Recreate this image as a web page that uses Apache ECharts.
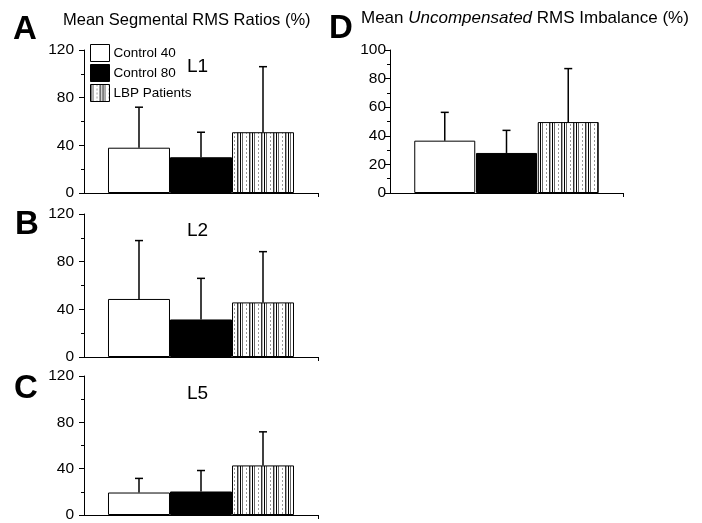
<!DOCTYPE html>
<html><head><meta charset="utf-8">
<script src="https://cdn.jsdelivr.net/npm/echarts@6/dist/echarts.min.js"></script>
<style>html,body{margin:0;padding:0;background:#fff}#c{width:702px;height:523px}</style>
</head><body><div id="c"></div>
<script>
// ---- data ----
const groups = ['Control 40', 'Control 80', 'LBP Patients'];
const panelA_mean = [38, 30, 51];
const panelA_sd   = [34, 21, 55];
const panelB_mean = [48.7, 31.5, 45.8];
const panelB_sd   = [49, 34.5, 42.6];
const panelC_mean = [19.4, 20.3, 42.8];
const panelC_sd   = [12.2, 18.1, 29];
const panelD_mean = [36.6, 28, 49.6];
const panelD_sd   = [19.8, 15.8, 37.4];

// stripe pattern for LBP patients
function makePattern() {
  const c = document.createElement('canvas');
  c.width = 12; c.height = 4;
  const g = c.getContext('2d');
  g.fillStyle = '#fff'; g.fillRect(0, 0, 12, 4);
  g.fillStyle = '#000'; g.fillRect(0, 0, 1, 4);
  g.fillStyle = '#666'; g.fillRect(2, 0, 1, 4);
  g.fillStyle = '#999'; g.fillRect(6, 0, 1, 2);
  g.fillStyle = '#333'; g.fillRect(9, 0, 1, 4);
  g.fillStyle = '#aaa'; g.fillRect(10, 0, 1, 4);
  return c;
}
const pattern = { image: makePattern(), repeat: 'repeat' };
const fills = ['#fff', '#000', pattern];

const panels = [
  { mean: panelA_mean, sd: panelA_sd, max: 120, interval: 40, grid: { left: 84, top: 50, width: 234, height: 143 }, bw: 62, margin: 10 },
  { mean: panelB_mean, sd: panelB_sd, max: 120, interval: 40, grid: { left: 84, top: 214, width: 234, height: 143 }, bw: 62, margin: 10 },
  { mean: panelC_mean, sd: panelC_sd, max: 120, interval: 40, grid: { left: 84, top: 376, width: 234, height: 142 }, bw: 62, margin: 10 },
  { mean: panelD_mean, sd: panelD_sd, max: 100, interval: 20, grid: { left: 390, top: 50, width: 233, height: 143 }, bw: 61, margin: 4 }
];

const XMIN = 0.113, XMAX = 3.887;
const font = 'Liberation Sans, Arial, sans-serif';
const grid = [], xAxis = [], yAxis = [], series = [];
panels.forEach((p, i) => {
  grid.push(p.grid);
  xAxis.push({
    type: 'value', gridIndex: i, min: XMIN, max: XMAX,
    axisLine: { show: true, lineStyle: { color: '#000', width: 1 } },
    axisTick: { show: true, customValues: [XMAX], length: 4, lineStyle: { color: '#000' } },
    axisLabel: { show: false }, splitLine: { show: false }
  });
  yAxis.push({
    type: 'value', gridIndex: i, min: 0, max: p.max, interval: p.interval,
    axisLine: { show: true, lineStyle: { color: '#000', width: 1 } },
    axisTick: { show: true, length: 5, lineStyle: { color: '#000' } },
    minorTick: { show: true, splitNumber: 2, length: 3, lineStyle: { color: '#000' } },
    splitLine: { show: false }, minorSplitLine: { show: false },
    axisLabel: { color: '#000', fontSize: 15.5, fontFamily: font, margin: p.margin }
  });
  groups.forEach((g, k) => {
    series.push({
      type: 'bar', name: g, xAxisIndex: i, yAxisIndex: i,
      barWidth: p.bw, barGap: '-100%',
      data: [[k + 1, p.mean[k]]],
      itemStyle: { color: fills[k], borderColor: '#000', borderWidth: 1 },
      z: 2, animation: false
    });
  });
  series.push({
    type: 'custom', xAxisIndex: i, yAxisIndex: i, z: 5, animation: false,
    data: p.mean.map((m, k) => [k + 1, m, m + p.sd[k]]),
    renderItem: function (params, api) {
      const x = api.value(0);
      const a = api.coord([x, api.value(1)]);
      const b = api.coord([x, api.value(2)]);
      return {
        type: 'group', children: [
          { type: 'line', shape: { x1: a[0], y1: a[1], x2: b[0], y2: b[1] }, style: { stroke: '#000', lineWidth: 1.5 } },
          { type: 'line', shape: { x1: b[0] - 4, y1: b[1], x2: b[0] + 4, y2: b[1] }, style: { stroke: '#000', lineWidth: 1.5 } }
        ]
      };
    }
  });
});

const letter = { fontSize: 33, fontWeight: 'bold', color: '#000', fontFamily: font };
const title = [
  { text: 'A', left: 13, top: 13, padding: 0, textStyle: letter },
  { text: 'B', left: 15, top: 208, padding: 0, textStyle: letter },
  { text: 'C', left: 14, top: 372, padding: 0, textStyle: letter },
  { text: 'D', left: 329, top: 12, padding: 0, textStyle: letter },
  { text: 'Mean Segmental RMS Ratios (%)', left: 63, top: 12, padding: 0, textStyle: { fontSize: 16.5, fontWeight: 'normal', color: '#000', fontFamily: font } },
  { text: 'Mean {i|Uncompensated} RMS Imbalance (%)', left: 361, top: 10, padding: 0,
    textStyle: { fontSize: 17, fontWeight: 'normal', color: '#000', fontFamily: font,
      rich: { i: { fontStyle: 'italic', fontSize: 17, color: '#000', fontFamily: font } } } },
  { text: 'L1', left: 187, top: 57, padding: 0, textStyle: { fontSize: 19, fontWeight: 'normal', color: '#000', fontFamily: font } },
  { text: 'L2', left: 187, top: 221, padding: 0, textStyle: { fontSize: 19, fontWeight: 'normal', color: '#000', fontFamily: font } },
  { text: 'L5', left: 187, top: 384, padding: 0, textStyle: { fontSize: 19, fontWeight: 'normal', color: '#000', fontFamily: font } }
];

const chart = echarts.init(document.getElementById('c'), null, { renderer: 'canvas' });
chart.setOption({
  animation: false,
  backgroundColor: '#fff',
  title: title,
  grid: grid, xAxis: xAxis, yAxis: yAxis, series: series,
  legend: {
    data: groups, orient: 'vertical', left: 90, top: 44, padding: 0,
    itemWidth: 19, itemHeight: 17, itemGap: 2, icon: 'rect',
    itemStyle: { borderColor: '#000', borderWidth: 1 },
    textStyle: { fontSize: 13.5, color: '#000', fontFamily: font, padding: [0, 0, 0, -1] },
    selectedMode: false
  }
});
</script></body></html>
